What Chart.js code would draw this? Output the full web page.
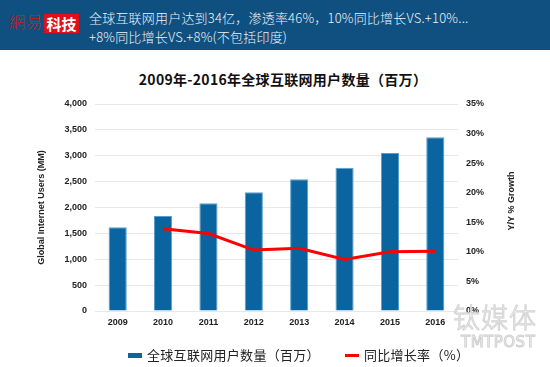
<!DOCTYPE html>
<html>
<head>
<meta charset="utf-8">
<script src="https://cdn.jsdelivr.net/npm/chart.js@4/dist/chart.umd.min.js"></script>
<style>
  html, body { margin: 0; padding: 0; width: 550px; height: 367px; overflow: hidden; background: #fff; font-family: "Noto Sans CJK SC", "Noto Sans", sans-serif; }
  #header { position: absolute; left: 0; top: 0; width: 550px; height: 50px; background: #0f5080; }
  #logo1 { position: absolute; left: 9px; top: 11px; font-family: "Noto Sans CJK TC", serif; font-size: 16px; font-weight: 300; color: #d4141c; line-height: 20px; letter-spacing: 1px; }
  #logo2 { position: absolute; left: 44px; top: 14px; width: 35px; height: 19px; background: #e0101a; color: #fff; font-size: 15px; font-weight: bold; line-height: 19px; text-align: center; }
  #htext { position: absolute; left: 89px; top: 8px; color: #eef3f8; font-size: 13px; line-height: 19px; white-space: nowrap; font-weight: 300; letter-spacing: 0.2px; }
  #title { position: absolute; left: 0; width: 566px; top: 69px; text-align: center; font-size: 14px; font-weight: bold; color: #111; line-height: 20px; letter-spacing: 0.3px; }
  #chartwrap { position: absolute; left: 0; top: 0; width: 550px; height: 367px; }
  #rtitle { position: absolute; left: 481px; top: 195px; width: 60px; text-align: center; transform: rotate(-90deg); transform-origin: 50% 50%; font-family: "Liberation Sans", Arial, sans-serif; font-size: 9px; font-weight: bold; color: #222; line-height: 12px; white-space: nowrap; }
  #legend { position: absolute; top: 346px; left: 128px; font-size: 13px; color: #222; line-height: 18px; white-space: nowrap; letter-spacing: 0.3px; }
  .sw { display: inline-block; vertical-align: middle; width: 14px; height: 5px; margin-right: 5px; position: relative; top: -1px; }
  #wm1 { position: absolute; left: 453px; top: 297px; font-size: 27px; font-weight: 300; color: rgba(255,255,255,0.5); -webkit-text-stroke: 1px #d4d4d4; font-family: "Noto Sans CJK SC", sans-serif; letter-spacing: 1px; }
  #wm2 { position: absolute; left: 461px; top: 333px; font-size: 15px; color: rgba(255,255,255,0.5); -webkit-text-stroke: 1px #cfcfcf; font-family: "DejaVu Sans", sans-serif; letter-spacing: 0.5px; }
</style>
</head>
<body>
<div id="header">
  <div id="logo1">網易</div>
  <div id="logo2">科技</div>
  <div id="htext">全球互联网用户达到34亿，渗透率46%，10%同比增长VS.+10%...<br>+8%同比增长VS.+8%(不包括印度)</div>
</div>
<div id="title">2009年-2016年全球互联网用户数量（百万）</div>
<div id="chartwrap"><canvas id="c" width="550" height="367"></canvas></div>
<div id="rtitle">Y/Y % Growth</div>
<div id="legend"><span class="sw" style="background:#0a64a0"></span>全球互联网用户数量（百万）<span style="display:inline-block;width:25px"></span><span class="sw" style="background:#ff0000;height:3px"></span>同比增长率（%）</div>
<div id="wm1">钛媒体</div>
<div id="wm2">TMTPOST</div>
<script>
const years = ['2009', '2010', '2011', '2012', '2013', '2014', '2015', '2016'];
const users = [1617, 1836, 2081, 2293, 2545, 2769, 3053, 3357];
const growth = [null, 13.9, 13.1, 10.3, 10.6, 8.7, 10.0, 10.1];
const usersLabel = '全球互联网用户数量（百万）';
const growthLabel = '同比增长率（%）';

const tickFont = { family: 'Liberation Sans, Arial, sans-serif', size: 9, weight: 'bold' };

new Chart(document.getElementById('c'), {
  type: 'bar',
  data: {
    labels: years,
    datasets: [
      {
        type: 'line', label: growthLabel, data: growth, yAxisID: 'y1',
        borderColor: '#ff0000', borderWidth: 3, pointRadius: 0, fill: false, tension: 0, order: 0
      },
      {
        type: 'bar', label: usersLabel, data: users, yAxisID: 'y',
        backgroundColor: '#0a64a0', borderColor: '#5a9fcc', borderWidth: 1,
        categoryPercentage: 1, barPercentage: 0.4, order: 1
      }
    ]
  },
  options: {
    responsive: false,
    animation: false,
    layout: { padding: { left: 36, right: 31, top: 104, bottom: 36 } },
    plugins: { legend: { display: false }, title: { display: false }, tooltip: { enabled: false } },
    scales: {
      x: {
        grid: { display: false, drawTicks: false },
        border: { display: false },
        ticks: { font: tickFont, color: '#222', padding: 6, maxRotation: 0 },
        afterFit: (s) => { s.height = 20; }
      },
      y: {
        position: 'left', min: 0, max: 4000,
        grid: { color: '#e8e8e8', drawTicks: false, lineWidth: 1 },
        border: { display: false },
        ticks: { stepSize: 500, font: tickFont, color: '#222', padding: 8,
          callback: (v) => v.toLocaleString('en-US') },
        title: { display: true, text: 'Global Internet Users (MM)', font: tickFont, color: '#222', padding: 0 },
        afterFit: (s) => { s.width = 59; }
      },
      y1: {
        position: 'right', min: 0, max: 35,
        grid: { display: false, drawTicks: false },
        border: { display: false },
        ticks: { stepSize: 5, font: tickFont, color: '#222', padding: 8,
          callback: (v) => v + '%' },
        title: { display: false },
        afterFit: (s) => { s.width = 61; }
      }
    }
  }
});
</script>
</body>
</html>
